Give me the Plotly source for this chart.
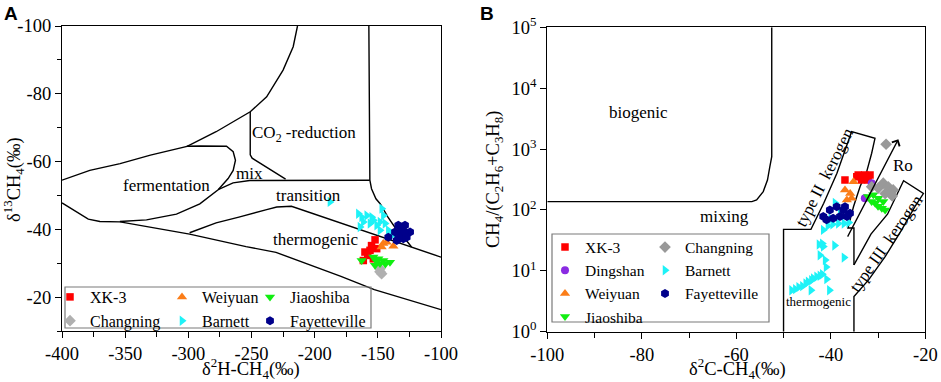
import math
import plotly.graph_objects as go

W, H = 941, 382
SERIF = "Liberation Serif"
SANS = "Liberation Sans"

# ---------------- Panel A data: δ2H-CH4 (x) vs δ13C-CH4 (y) ----------------
a_xk3_x = [-152.2, -156.2, -160.2, -153.6, -161.5, -150.9, -158.0, -155.0]
a_xk3_y = [-36.9, -33.8, -33.3, -31.3, -30.8, -34.3, -32.3, -35.2]
a_wei_x = [-145.7, -143.0, -137.7, -147.0]
a_wei_y = [-35.8, -36.2, -35.0, -34.8]
a_jia_x = [-162.8, -153.6, -149.6, -145.7, -140.4, -152.2, -148.3, -151.0, -144.0]
a_jia_y = [-30.8, -31.8, -31.3, -30.8, -30.3, -29.4, -29.9, -30.6, -29.8]
a_cha_x = [-148.3, -147.0, -148.3]
a_cha_y = [-28.4, -26.9, -27.5]
a_bar_x = [-187.9, -165.4, -162.8, -158.8, -154.8, -161.5, -164.1, -156.2, -146.9,
           -145.6, -148.3, -144.3, -141.7, -148.3, -150.9, -139.0, -153.6]
a_bar_y = [-48.1, -44.6, -43.6, -44.1, -43.6, -42.2, -40.7, -41.7, -46.1,
           -44.1, -42.2, -41.7, -39.7, -39.7, -41.2, -38.2, -42.7]
a_fay_x = [-133.8, -128.5, -124.5, -141.7, -132.4, -129.8, -135.0, -127.2, -136.4,
           -131.1, -133.8, -128.5]
a_fay_y = [-41.2, -41.2, -39.2, -37.7, -38.7, -37.2, -36.7, -37.7, -39.2,
           -40.2, -37.2, -39.2]

# Panel A genetic-field boundaries
a_l1_x = [-400, -378, -354, -330, -301, -278, -251, -238, -225, -217, -213.6]
a_l1_y = [-54.5, -57.4, -59.4, -61.9, -64.5, -68.8, -74.7, -79.1, -87.0, -93.9, -100]
a_l2_x = [-251, -251, -249.5, -223]
a_l2_y = [-74.7, -62, -61, -54.8]
a_l3_x = [-276.4, -264.6, -251.4, -156.3]
a_l3_y = [-51.7, -53.7, -54.4, -54.5]
a_l4_x = [-157.1, -156.3, -155.0, -151.5, -148.0, -142.0, -135.0, -128.0, -123.3]
a_l4_y = [-100, -54.5, -52.0, -49.0, -47.5, -43.6, -39.8, -37.0, -34.8]
a_l5_x = [-299, -278, -260, -249, -238, -230, -218.4, -100]
a_l5_y = [-39.0, -41.9, -43.6, -44.6, -45.8, -46.6, -46.8, -31.8]
a_l6_x = [-400, -388.4, -379.2, -370, -354, -299, -254.3, -230.6, -179.2, -152.8, -126.5, -100]
a_l6_y = [-47.8, -45.0, -43.0, -42.3, -42.2, -38.6, -34.9, -33.2, -26.1, -22.2, -19.2, -16.3]
a_l7_x = [-301.4, -290.9, -269.8, -264.5, -262.7, -264.5, -268.5, -276.4, -290.9, -309.4, -333.1, -354.2]
a_l7_y = [-64.5, -64.6, -64.5, -62.9, -60.4, -57.4, -55.0, -51.7, -47.5, -44.5, -42.8, -42.3]

a_xticks = [-400, -350, -300, -250, -200, -150, -100]
a_xticktext = ["-400", "-350", "-300", "-250", "-200", "-150", "-100"]
a_yticks = [-100, -80, -60, -40, -20]
a_yticktext = ["-100", "-80", "-60", "-40", "-20"]

a_labels = ["CO<sub>2</sub> -reduction", "mix", "fermentation", "transition", "thermogenic"]
a_label_x = [-208.7, -251.4, -317.2, -205.0, -199.2]
a_label_y = [-68.1, -56.5, -53.0, -50.0, -36.9]

# ---------------- Panel B data: δ13C-CH4 (x) vs C1/(C2+C3) (y) ----------------
b_xk3_x = [-37.0, -34.2, -32.8, -31.7, -33.5, -32.1, -34.5]
b_xk3_y = [311, 376, 376, 376, 311, 311, 352]
b_din_x = [-31.35, -32.8]
b_din_y = [275, 155]
b_wei_x = [-35.2, -37.0, -35.9, -36.6, -35.6]
b_wei_y = [290, 213, 186, 145, 155]
b_jia_x = [-32.1, -31.0, -29.95, -28.9, -29.2, -30.6, -31.35, -28.5, -30.0]
b_jia_y = [166, 178, 155, 138, 107, 129, 138, 100, 115]
b_cha_x = [-28.3, -28.9, -27.85, -26.8, -29.95, -28.5, -27.4, -31.35, -27.0]
b_cha_y = [1200, 275, 240, 213, 229, 186, 186, 240, 170]
b_bar_x = [-48.3, -47.5, -46.8, -46.0, -45.3, -44.8, -44.1, -43.7, -43.0, -42.3, -41.8,
           -40.9, -40.3, -41.0, -41.2, -42.3, -41.6, -37.2, -42.5, -41.8, -39.2, -41.6,
           -40.6, -39.6, -38.4, -37.2, -36.2, -39.1, -40.0, -38.0, -44.2]
b_bar_y = [4.8, 5.0, 5.4, 5.6, 6.2, 6.6, 7.0, 7.5, 8.0, 8.3, 8.8,
           7.3, 4.8, 11.5, 15, 18, 25, 16.5, 27, 28, 26, 47,
           55, 58, 60, 60, 62, 130, 72, 95, 4.8]
b_fay_x = [-41.6, -40.2, -38.75, -37.35, -35.95, -39.5, -38.05, -36.6, -40.9, -37.0]
b_fay_y = [78, 100, 113, 100, 88, 73, 78, 78, 69, 113]

# Panel B genetic-field boundaries
b_bio_x = [-52.5, -52.5, -52.9, -53.4, -54.3, -55.7, -56.7, -100]
b_bio_y = [1e5, 750, 513, 310, 200, 146, 137, 137]
b_t2_x = [-50.0, -50.0, -44.2, -41.5, -38.7, -35.6, -30.65, -31.35, -32.4, -33.8, -35.2, -36.36, -35.1, -35.1]
b_t2_y = [1, 48, 48, 129, 401, 1930, 1500, 853, 426, 242, 113, 50.6, 50.6, 12.5]
b_t3_x = [-35.1, -31.5, -28.0, -26.2, -24.6, -20.4, -22.2, -25.0, -28.5, -32.0, -35.1, -35.1]
b_t3_y = [12.5, 40, 85, 165, 302, 186, 113, 47, 17.1, 7.1, 3.77, 1]
b_ro_start = (-36.6, 34.5)
b_ro_end = (-25.7, 1450)

b_xticks = [-100, -80, -60, -40, -20]
b_xticktext = ["-100", "-80", "-60", "-40", "-20"]
b_yticks = [1, 10, 100, 1000, 10000, 100000]
b_yticktext = ["10<sup>0</sup>", "10<sup>1</sup>", "10<sup>2</sup>", "10<sup>3</sup>", "10<sup>4</sup>", "10<sup>5</sup>"]

b_labels = ["biogenic", "mixing", "thermogenic", "Ro"]
b_label_x = [-80.7, -62.6, -42.65, -24.65]
b_label_y = [4000, 78, 3.12, 533]

# colours
C_RED, C_ORA, C_GRN, C_GRY, C_CYA, C_NAV, C_PUR = (
    "#ff0000", "#fb7d18", "#11ee11", "#b0b0b0", "#1ef2f7", "#00008b", "#8a2be2")

fig = go.Figure()

def line(x, y, xa, ya):
    fig.add_trace(go.Scatter(x=x, y=y, mode="lines", xaxis=xa, yaxis=ya,
                             line=dict(color="black", width=1.4),
                             showlegend=False, hoverinfo="skip"))

for lx, ly in [(a_l1_x, a_l1_y), (a_l2_x, a_l2_y), (a_l3_x, a_l3_y), (a_l4_x, a_l4_y),
               (a_l5_x, a_l5_y), (a_l6_x, a_l6_y), (a_l7_x, a_l7_y)]:
    line(lx, ly, "x", "y")
for lx, ly in [(b_bio_x, b_bio_y), (b_t2_x, b_t2_y), (b_t3_x, b_t3_y)]:
    line(lx, ly, "x2", "y2")

def pts(x, y, name, sym, col, xa, ya, leg, size=9):
    fig.add_trace(go.Scatter(x=x, y=y, mode="markers", name=name, xaxis=xa, yaxis=ya,
                             marker=dict(symbol=sym, color=col, size=size, line=dict(width=0)),
                             legend=leg))

# Panel A points (legend columns)
pts(a_xk3_x, a_xk3_y, "XK-3", "square", C_RED, "x", "y", "legend", 7.5)
pts(a_cha_x, a_cha_y, "Changning", "diamond", C_GRY, "x", "y", "legend")
pts(a_wei_x, a_wei_y, "Weiyuan", "triangle-up", C_ORA, "x", "y", "legend2")
pts(a_bar_x, a_bar_y, "Barnett", "triangle-right", C_CYA, "x", "y", "legend2")
pts(a_jia_x, a_jia_y, "Jiaoshiba", "triangle-down", C_GRN, "x", "y", "legend3")
pts(a_fay_x, a_fay_y, "Fayetteville", "hexagon", C_NAV, "x", "y", "legend3")

# Panel B points
pts(b_xk3_x, b_xk3_y, "XK-3", "square", C_RED, "x2", "y2", "legend4", 7.5)
pts(b_din_x, b_din_y, "Dingshan", "circle", C_PUR, "x2", "y2", "legend4", 8)
pts(b_wei_x, b_wei_y, "Weiyuan", "triangle-up", C_ORA, "x2", "y2", "legend4")
pts(b_jia_x, b_jia_y, "Jiaoshiba", "triangle-down", C_GRN, "x2", "y2", "legend4")
pts(b_cha_x, b_cha_y, "Changning", "diamond", "#999999", "x2", "y2", "legend5")
pts(b_bar_x, b_bar_y, "Barnett", "triangle-right", C_CYA, "x2", "y2", "legend5")
pts(b_fay_x, b_fay_y, "Fayetteville", "hexagon", C_NAV, "x2", "y2", "legend5")

def px(v):
    return v / W

def py(v):
    return 1 - v / H

axis_common = dict(showline=True, linecolor="black", linewidth=1.3, mirror=True,
                   ticks="outside", ticklen=6, tickwidth=1.2, tickcolor="black",
                   showgrid=False, zeroline=False, automargin=False,
                   tickfont=dict(family=SERIF, size=18.5, color="black"), tickmode="array")

annotations = []
for t, x, y in zip(a_labels, a_label_x, a_label_y):
    annotations.append(dict(text=t, x=x, y=y, xref="x", yref="y", showarrow=False,
                            xanchor="center", yanchor="middle",
                            font=dict(family=SERIF, size=17, color="black")))
for t, x, y in zip(b_labels, b_label_x, b_label_y):
    annotations.append(dict(text=t, x=x, y=math.log10(y), xref="x2", yref="y2", showarrow=False,
                            xanchor="center", yanchor="middle",
                            font=dict(family=SERIF, size=13 if t == "thermogenic" else 17, color="black")))
annotations.append(dict(text="type II  kerogen", x=-41.4, y=2.54, xref="x2", yref="y2",
                        showarrow=False, textangle=-63, xanchor="center", yanchor="middle",
                        font=dict(family=SERIF, size=17, color="black")))
annotations.append(dict(text="type III  kerogen", x=-28.3, y=1.453, xref="x2", yref="y2",
                        showarrow=False, textangle=-55, xanchor="center", yanchor="middle",
                        font=dict(family=SERIF, size=17, color="black")))
annotations.append(dict(x=b_ro_end[0], y=math.log10(b_ro_end[1]), ax=b_ro_start[0],
                        ay=math.log10(b_ro_start[1]), xref="x2", yref="y2", axref="x2", ayref="y2",
                        showarrow=True, arrowhead=4, arrowsize=1.3, arrowwidth=1.3, arrowcolor="black",
                        text=""))
# axis titles and panel letters
title_font = dict(family=SERIF, size=18.5, color="black")
annotations += [
    dict(text="δ<sup>2</sup>H-CH<sub>4</sub>(‰)", x=px(251), y=py(368), xref="paper", yref="paper",
         xanchor="center", yanchor="middle", showarrow=False, font=title_font),
    dict(text="δ<sup>13</sup>CH<sub>4</sub>(‰)", x=px(14), y=py(180), xref="paper", yref="paper",
         xanchor="center", yanchor="middle", showarrow=False, textangle=-90, font=title_font),
    dict(text="δ<sup>2</sup>C-CH<sub>4</sub>(‰)", x=px(737), y=py(368), xref="paper", yref="paper",
         xanchor="center", yanchor="middle", showarrow=False, font=title_font),
    dict(text="CH<sub>4</sub>/(C<sub>2</sub>H<sub>6</sub>+C<sub>3</sub>H<sub>8</sub>)", x=px(494), y=py(179),
         xref="paper", yref="paper", xanchor="center", yanchor="middle", showarrow=False,
         textangle=-90, font=title_font),
    dict(text="<b>A</b>", x=px(2), y=py(1), xref="paper", yref="paper", xanchor="left", yanchor="top",
         showarrow=False, font=dict(family=SANS, size=19, color="black")),
    dict(text="<b>B</b>", x=px(478), y=py(1), xref="paper", yref="paper", xanchor="left", yanchor="top",
         showarrow=False, font=dict(family=SANS, size=19, color="black")),
]

shapes = [
    dict(type="rect", xref="paper", yref="paper", x0=px(65), x1=px(371), y0=py(328), y1=py(287),
         line=dict(color="#7a7a7a", width=1.2), fillcolor="rgba(0,0,0,0)"),
    dict(type="rect", xref="paper", yref="paper", x0=px(552), x1=px(769), y0=py(322), y1=py(234),
         line=dict(color="#7a7a7a", width=1.2), fillcolor="rgba(0,0,0,0)"),
]

def leg(xp, ytop, size):
    return dict(x=px(xp), y=py(ytop), xanchor="left", yanchor="top", orientation="v",
                bgcolor="rgba(0,0,0,0)", borderwidth=0, tracegroupgap=0, traceorder="normal",
                font=dict(family=SERIF, size=size, color="black"))

fig.update_layout(
    template="none",
    width=W, height=H, margin=dict(l=0, r=0, t=0, b=0, autoexpand=False),
    paper_bgcolor="white", plot_bgcolor="white",
    font=dict(family=SERIF, color="black"),
    xaxis=dict(axis_common, domain=[px(62), px(441)], anchor="y", range=[-400, -100],
               tickvals=a_xticks, ticktext=a_xticktext,
               minor=dict(tickmode="linear", tick0=-400, dtick=25, ticks="outside", ticklen=5,
                          tickwidth=1.1, tickcolor="black", showgrid=False)),
    yaxis=dict(axis_common, domain=[py(331), py(26)], anchor="x", range=[-10, -100],
               tickvals=a_yticks, ticktext=a_yticktext,
               minor=dict(tickmode="linear", tick0=-100, dtick=10, ticks="outside", ticklen=4,
                          tickwidth=1.1, tickcolor="black", showgrid=False)),
    xaxis2=dict(axis_common, domain=[px(547.3), px(925.3)], anchor="y2", range=[-100, -20],
                tickvals=b_xticks, ticktext=b_xticktext,
                minor=dict(tickmode="linear", tick0=-100, dtick=10, ticks="outside", ticklen=5,
                           tickwidth=1.1, tickcolor="black", showgrid=False)),
    yaxis2=dict(axis_common, domain=[py(331.7), py(27.3)], anchor="x2", type="log", range=[0, 5],
                tickvals=b_yticks, ticktext=b_yticktext),
    legend=leg(50, 280, 16),
    legend2=leg(162, 280, 16),
    legend3=leg(250, 280, 16),
    legend4=leg(545, 230.5, 15.5),
    legend5=leg(645, 230.5, 15.5),
    annotations=annotations,
    shapes=shapes,
)

fig.write_html("out.html", config={"displayModeBar": False},
               post_script="document.body.style.margin='0';document.body.style.overflow='hidden';")
